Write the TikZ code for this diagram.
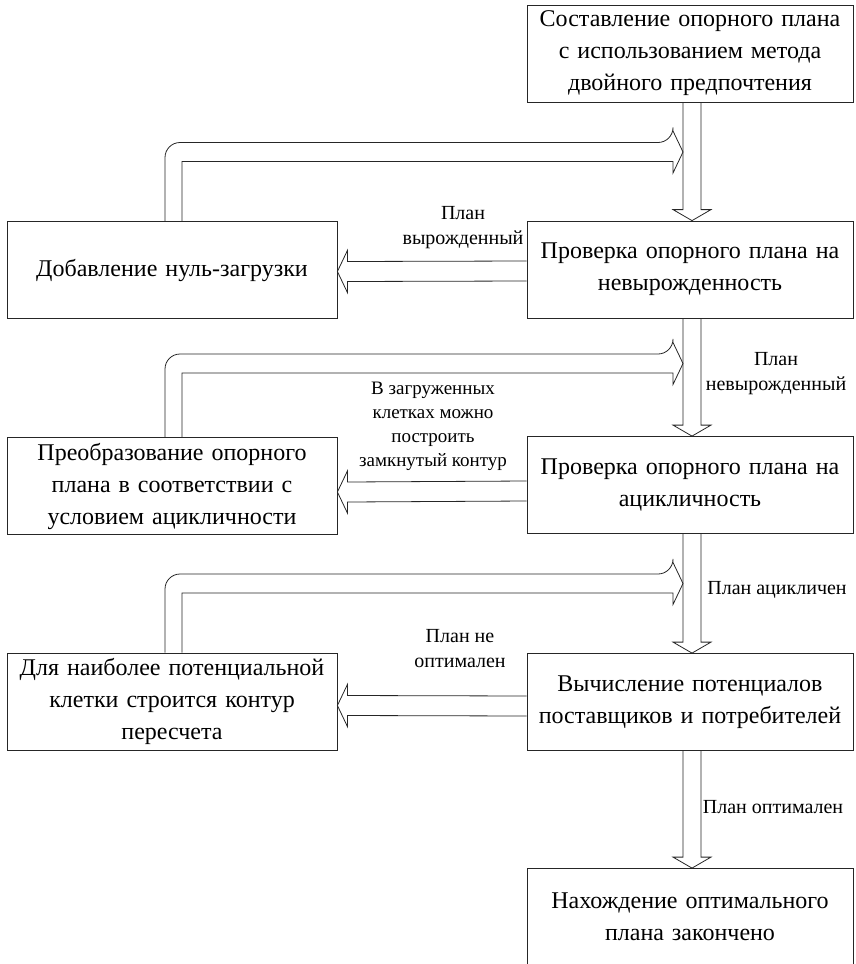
\documentclass[tikz,border=0pt]{standalone}
\usepackage{fontspec}
\setmainfont{Liberation Serif}
\usetikzlibrary{calc}

% hollow arrow down from box #1 to box #2
\newcommand{\vstrelka}[2]{%
  \draw[strelka] ($(#1.south)+(-7,0)$) -- ($(#2.north)+(-7,-11)$) -- ($(#2.north)+(-17,-11)$)
    -- ($(#2.north)+(2,0)$) -- ($(#2.north)+(21,-11)$) -- ($(#2.north)+(11,-11)$) -- ($(#1.south)+(11,0)$);}
% hollow arrow left from box #1 to box #2, shifted by #3
\newcommand{\hstrelka}[3]{%
  \draw[strelka] ($(#1.west)+(0,#3-10)$) -- ($(#2.east)+(10,#3-10)$) -- ($(#2.east)+(10,#3-21)$)
    -- ($(#2.east)+(0,#3)$) -- ($(#2.east)+(10,#3+21)$) -- ($(#2.east)+(10,#3+10)$) -- ($(#1.west)+(0,#3+10)$);}
% loop back from the top of box #1 to the point #2
\newcommand{\petlya}[2]{%
  \draw[strelka] ($(#1.north)+(-7,0)$) [rounded corners=15pt] |- ($(#2)+(-10,-9.5)$) [sharp corners]
    -- ($(#2)+(-10,-21)$) -- (#2) -- ($(#2)+(-10,21)$) -- ($(#2)+(-10,9.5)$) -| ($(#1.north)+(10,0)$);}

\begin{document}
\begin{tikzpicture}[x=1pt, y=-1pt,
font=\fontsize{24}{32}\selectfont,
blok/.style={draw=black!85, line width=0.8pt, align=center, minimum height=97pt, inner sep=2pt},
pravyj/.style={blok, minimum width=326pt, text width=320pt},
levyj/.style={blok, minimum width=330pt, text width=324pt},
metka/.style={align=center, inner sep=0pt, font=\fontsize{20}{25}\selectfont},
strelka/.style={draw=black!85, line width=0.8pt, line join=miter},
]
\useasboundingbox (0,0) rectangle (856,964);

\node[pravyj] (A) at (690,53.5) {Составление опорного плана\\с использованием метода\\двойного предпочтения};
\node[pravyj] (B) at (690,269.5) {Проверка опорного плана на\\невырожденность};
\node[levyj] (C) at (172,270) {Добавление нуль-загрузки};
\node[pravyj] (D) at (690,485) {Проверка опорного плана на\\ацикличность};
\node[levyj] (E) at (172,486) {Преобразование опорного\\плана в соответствии с\\условием ацикличности};
\node[pravyj] (F) at (690,702) {Вычисление потенциалов\\поставщиков и потребителей};
\node[levyj] (G) at (172,701.5) {Для наиболее потенциальной\\клетки строится контур\\пересчета};
\node[pravyj] (H) at (690,917) {Нахождение оптимального\\плана закончено};

\coordinate (v1) at (683,152);
\coordinate (v2) at (683,363.5);
\coordinate (v3) at (683,583.5);

\vstrelka{A}{B}
\vstrelka{B}{D}
\vstrelka{D}{F}
\vstrelka{F}{H}

\hstrelka{B}{C}{1.5}
\hstrelka{D}{E}{6}
\hstrelka{F}{G}{4}

\petlya{C}{v1}
\petlya{E}{v2}
\petlya{G}{v3}

\node[metka] (m1) at (463,228) {План\\вырожденный};
\node[metka] (m2) at (776,374) {План\\невырожденный};
\node[metka, font=\fontsize{19}{24}\selectfont] (m3) at (433,426) {В загруженных\\клетках можно\\построить\\замкнутый контур};
\node[metka] (m4) at (460,649) {План не\\оптимален};
\node[metka] (m5) at (777,590) {План ацикличен};
\node[metka] (m6) at (773,807) {План оптимален};
\end{tikzpicture}
\end{document}
